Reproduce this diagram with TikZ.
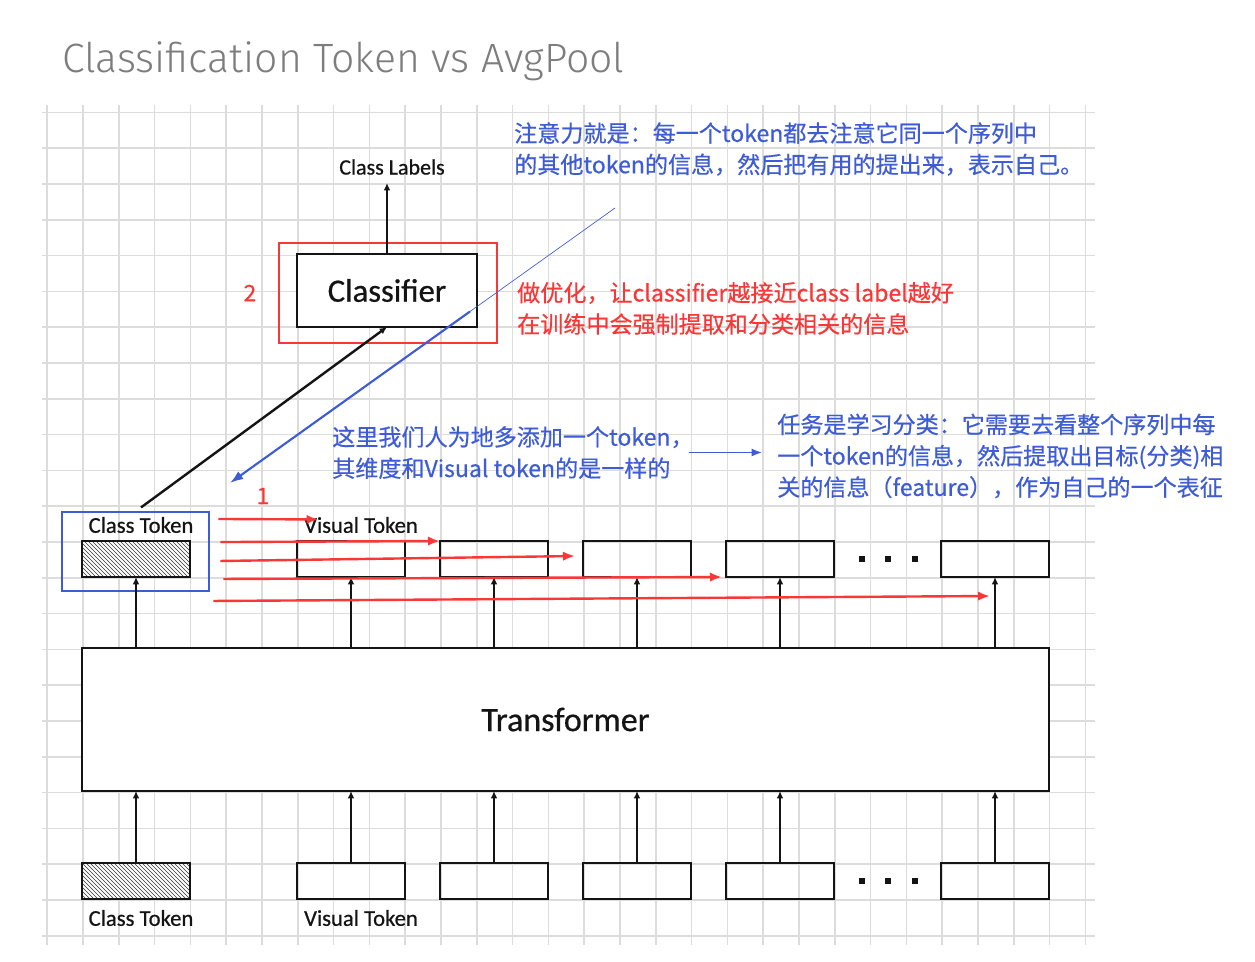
\documentclass[tikz,border=0pt]{standalone}
\usepackage{fontspec}
\setmainfont{Carlito}[FakeBold=0.6]
\newfontfamily\cjk[FakeBold=0.5]{Noto Sans CJK SC}
\newfontfamily\titlefont{Fira Sans Light}
\usepackage{xcolor}
\usepackage{tikz}
\usetikzlibrary{positioning, arrows.meta, patterns}
\definecolor{gridline}{RGB}{220,220,220}
\definecolor{notered}{RGB}{250,55,55}
\definecolor{noteblue}{RGB}{62,92,214}
\definecolor{titlegray}{RGB}{125,125,125}
\definecolor{ink}{RGB}{20,20,20}

\begin{document}
\begin{tikzpicture}[
            x=0.75pt, y=-0.75pt,
            tokenbox/.style={draw=ink, line width=2pt, minimum width=81pt, minimum height=27pt, inner sep=0pt, outer sep=0pt},
            classbox/.style={tokenbox, preaction={fill=white}, pattern=north west lines, pattern color=ink!85},
            tokenlabel/.style={text=ink, font=\fontsize{17pt}{20pt}\selectfont, inner sep=1pt},
            note/.style={text=#1, font=\cjk\fontsize{17.3pt}{23.5pt}\selectfont, align=left, inner sep=0pt, anchor=west},
            flow/.style={draw=ink, line width=1.8pt, -{Latex[length=5.5pt,width=5pt]}},
            redflow/.style={draw=notered, line width=1.8pt, -{Latex[length=9pt,width=7pt]}}
        ]
            \fill[white] (0,0) rectangle (1255,961);
            \useasboundingbox (0,0) rectangle (1255,961);
            % grid paper
            \foreach \k in {0,...,29} \draw[gridline, line width=1.2pt] (47.2+35.8*\k,105) -- (47.2+35.8*\k,945);
            \foreach \k in {0,...,23} \draw[gridline, line width=1.2pt] (42,112.4+35.8*\k) -- (1095,112.4+35.8*\k);

            \node (title) [anchor=base west, inner sep=0pt, text=titlegray, font=\titlefont\fontsize{30.7pt}{36pt}\selectfont] at (62,72) {Classification Token vs AvgPool};

            % classifier head
            \node (classifier) [draw=ink, fill=white, line width=2pt, outer sep=0pt, minimum width=135pt, minimum height=54.75pt, text=ink, font=\fontsize{24.5pt}{28pt}\selectfont] at (387,290.5) {Classifier};
            \node (focus) [draw=notered, line width=2pt, minimum width=163.5pt, minimum height=75pt] at (388,293) {};
            \node (labels) [tokenlabel, font=\fontsize{16.5pt}{20pt}\selectfont] at (392,167) {Class Labels};
            \node (steptwo) [text=notered, font=\cjk\fontsize{17pt}{20pt}\selectfont] at (250,293) {2};

            % transformer
            \node (transformer) [draw=ink, fill=white, line width=2pt, outer sep=0pt, minimum width=725.25pt, minimum height=107.25pt, text=ink, font=\fontsize{25.5pt}{30pt}\selectfont] at (565.5,719.5) {Transformer};

            % output tokens
            \node (ct) [classbox] at (136,559) {};
            \node (vt1) [tokenbox, right=80.25pt of ct] {};
            \node (vt2) [tokenbox, right=26.25pt of vt1] {};
            \node (vt3) [tokenbox, right=26.25pt of vt2] {};
            \node (vt4) [tokenbox, right=26.25pt of vt3] {};
            \node (vt5) [tokenbox, right=80.25pt of vt4] {};
            \node (ctname) [tokenlabel] at (141,525) {Class Token};
            \node (vtname) [tokenlabel] at (361,525) {Visual Token};
            \node (ctframe) [draw=noteblue, line width=2pt, minimum width=110.25pt, minimum height=59.25pt] at (135.5,551.5) {};
            \node (stepone) [text=notered, font=\cjk\fontsize{17pt}{20pt}\selectfont] at (263,496) {1};

            % input tokens
            \node (ctin) [classbox] at (136,881) {};
            \node (vtin1) [tokenbox, right=80.25pt of ctin] {};
            \node (vtin2) [tokenbox, right=26.25pt of vtin1] {};
            \node (vtin3) [tokenbox, right=26.25pt of vtin2] {};
            \node (vtin4) [tokenbox, right=26.25pt of vtin3] {};
            \node (vtin5) [tokenbox, right=80.25pt of vtin4] {};
            \node (ctinname) [tokenlabel] at (141,918) {Class Token};
            \node (vtinname) [tokenlabel] at (361,918) {Visual Token};

            \foreach \dx in {862,888,915} {
                \fill[ink] (\dx-2.7,556.3) rectangle (\dx+2.7,561.7);
                \fill[ink] (\dx-2.7,878.3) rectangle (\dx+2.7,883.7);
            }

            % notes
            \node (attnnote) [note=noteblue] at (514,149) {注意力就是：每一个token都去注意它同一个序列中\\的其他token的信息，然后把有用的提出来，表示自己。};
            \node (trainnote) [note=notered] at (517,308.5) {做优化，让classifier越接近class label越好\\在训练中会强制提取和分类相关的信息};
            \node (addnote) [note=noteblue] at (332,452.5) {这里我们人为地多添加一个token，\\其维度和Visual token的是一样的};
            \node (tasknote) [note=noteblue] at (777,456) {任务是学习分类：它需要去看整个序列中每\\一个token的信息，然后提取出目标(分类)相\\关的信息（feature），作为自己的一个表征};

            % black flow
            \draw[flow] (classifier.north) -- ([yshift=-5pt]classifier.north |- labels.south);
            \draw[flow] ([yshift=6pt]ctname.north) -- (classifier.south);
            \draw[flow] (ct.south |- transformer.north) -- (ct.south);
            \draw[flow] (vt1.south |- transformer.north) -- (vt1.south);
            \draw[flow] (vt2.south |- transformer.north) -- (vt2.south);
            \draw[flow] (vt3.south |- transformer.north) -- (vt3.south);
            \draw[flow] (vt4.south |- transformer.north) -- (vt4.south);
            \draw[flow] (vt5.south |- transformer.north) -- (vt5.south);
            \draw[flow] (ctin.north) -- (ctin.north |- transformer.south);
            \draw[flow] (vtin1.north) -- (vtin1.north |- transformer.south);
            \draw[flow] (vtin2.north) -- (vtin2.north |- transformer.south);
            \draw[flow] (vtin3.north) -- (vtin3.north |- transformer.south);
            \draw[flow] (vtin4.north) -- (vtin4.north |- transformer.south);
            \draw[flow] (vtin5.north) -- (vtin5.north |- transformer.south);

            % red attention arrows
            \draw[redflow] ([shift={(6pt,24.4pt)}]ctframe.east) -- ([shift={(12pt,-3pt)}]vtname.north west);
            \draw[redflow] ([shift={(7.5pt,7.1pt)}]ctframe.east) -- (vt2.north west);
            \draw[redflow] ([shift={(7.5pt,-7.1pt)}]ctframe.east) -- ([shift={(-6pt,2.25pt)}]vt3.west);
            \draw[redflow] ([shift={(9.75pt,-20.6pt)}]ctframe.east) -- ([xshift=-3pt]vt4.south west);
            \draw[redflow] ([shift={(2.25pt,-37.1pt)}]ctframe.east) -- ([shift={(-3.75pt,-14.25pt)}]vt5.south);

            % blue hints
            \coordinate (hintstart) at (615,208);
            \coordinate (hintbend) at (470,311.5);
            \coordinate (hintend) at (230,483);
            \draw[noteblue, line width=0.5pt] (hintstart) -- (hintbend);
            \draw[noteblue, line width=1.6pt, -{Latex[length=10pt,width=7pt]}] (hintbend) -- (hintend);
            \path (addnote.east -| tasknote.west) coordinate (tasktip);
            \draw[noteblue, line width=1.4pt, -{Latex[length=8pt,width=6pt]}] ([xshift=-4pt]addnote.east) -- ([xshift=-11pt]tasktip);
        \end{tikzpicture}
\end{document}
